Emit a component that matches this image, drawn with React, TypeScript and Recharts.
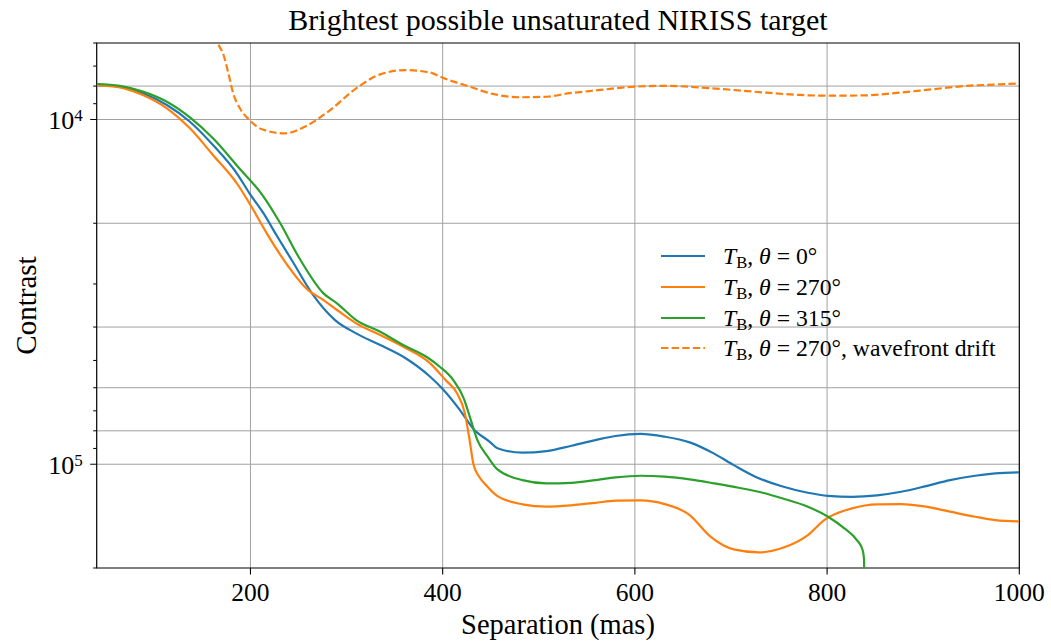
import React from "react";
import { LineChart, Line, XAxis, YAxis, CartesianGrid, Legend, ReferenceArea } from "recharts";

// separation (mas) / contrast values, one pair of arrays per curve
const sepTheta0 = [40, 64, 88, 113, 137, 161, 187, 199, 213, 227, 244, 264, 288, 310, 335, 359, 387, 400, 418, 432, 449, 457, 483, 508, 534, 559, 580, 606, 631, 657, 682, 703, 727, 752, 780, 801, 826, 852, 877, 903, 928, 954, 975, 1000];
const contrastTheta0 = [7950, 8030, 8390, 9080, 10150, 11860, 14490, 16380, 18600, 21640, 25870, 31940, 38180, 41720, 45100, 48790, 55760, 60500, 69660, 79000, 86100, 89900, 92600, 91600, 88400, 85100, 82800, 81700, 83200, 86400, 93000, 100600, 109200, 115700, 121000, 123500, 124300, 123100, 120200, 115700, 111200, 108000, 106300, 105600];

const sepTheta270 = [40, 64, 88, 113, 137, 161, 187, 200, 217, 236, 260, 276, 290, 310, 335, 359, 387, 403, 415, 423, 428, 432, 438, 445, 457, 483, 508, 534, 559, 580, 606, 631, 657, 678, 703, 729, 754, 780, 797, 826, 852, 877, 903, 928, 954, 975, 1000];
const contrastTheta270 = [7950, 8070, 8490, 9280, 10610, 12680, 15490, 17700, 21390, 25870, 31250, 33400, 35700, 39030, 42200, 45620, 50970, 57000, 62300, 71000, 85000, 100000, 108700, 114900, 123700, 130700, 132800, 131600, 129400, 127600, 127300, 130500, 140400, 161600, 176600, 180200, 174700, 160500, 145200, 134300, 130700, 130500, 132800, 137300, 142000, 145200, 146500];

const sepTheta315 = [40, 64, 88, 113, 137, 161, 187, 213, 231, 250, 276, 290, 310, 335, 359, 383, 397, 411, 422, 429, 436, 447, 457, 483, 508, 534, 559, 580, 606, 631, 657, 682, 708, 733, 754, 780, 801, 818, 831, 837, 838.5, 839];
const contrastTheta315 = [7890, 7990, 8300, 8880, 9860, 11340, 13710, 16650, 20000, 25010, 31940, 34140, 38180, 41280, 45100, 48790, 52150, 57000, 64500, 74000, 85000, 95200, 103500, 111200, 113600, 113200, 111200, 109200, 108000, 108700, 110700, 113600, 117000, 121000, 125700, 132800, 142000, 153500, 166000, 177400, 189600, 400000];

const sepDrift = [160, 166, 172, 177, 182, 189, 199, 212, 236, 258, 283, 310, 335, 361, 387, 400, 428, 452, 480, 508, 532, 553, 564, 600, 633, 667, 702, 737, 771, 806, 841, 875, 910, 945, 979, 1000];
const contrastDrift = [5300, 6000, 6500, 7340, 8390, 9280, 10040, 10680, 10970, 10440, 9390, 8120, 7400, 7190, 7310, 7570, 8030, 8430, 8620, 8590, 8390, 8270, 8210, 8030, 7990, 8070, 8210, 8360, 8490, 8530, 8510, 8360, 8170, 7990, 7910, 7860];

const xTicks = [200, 400, 600, 800, 1000];
const yTicks = [6000, 7000, 8000, 9000, 10000, 20000, 30000, 40000, 50000, 60000, 70000, 80000, 90000, 100000, 200000];
const yGrid = [8000, 10000, 20000, 40000, 60000, 80000, 100000];
const xGrid = [200, 400, 600, 800];

const legendRows = [
  { angle: "0°", extra: "", color: "#1f77b4", dash: undefined },
  { angle: "270°", extra: "", color: "#ff7f0e", dash: undefined },
  { angle: "315°", extra: "", color: "#2ca02c", dash: undefined },
  { angle: "270°", extra: ", wavefront drift", color: "#ff7f0e", dash: "7.4 3.2" },
];

const zip = (xs: number[], ys: number[]) => xs.map((sep, i) => ({ sep, contrast: ys[i] }));

const FONT = "'Liberation Serif', 'DejaVu Serif', serif";

function XTick(props: any) {
  const { x, y, payload } = props;
  return (
    <g>
      <line x1={x} x2={x} y1={y} y2={y + 6.5} stroke="#000" strokeWidth={1.1} />
      <text x={x} y={y + 33} textAnchor="middle" fontSize={25.5} fontFamily={FONT} fill="#000">
        {payload.value}
      </text>
    </g>
  );
}

function YTick(props: any) {
  const { x, y, payload } = props;
  const v = payload.value;
  const major = v === 10000 || v === 100000;
  return (
    <g>
      <line x1={x - (major ? 6.5 : 3.5)} x2={x} y1={y} y2={y} stroke="#000" strokeWidth={1} />
      {major && (
        <text x={x - 14} y={y + 10} textAnchor="end" fontSize={26} fontFamily={FONT} fill="#000">
          10
          <tspan dy={-8} fontSize={17}>
            {Math.round(Math.log10(v))}
          </tspan>
        </text>
      )}
    </g>
  );
}

function LegendBox() {
  return (
    <div style={{ fontFamily: FONT, fontSize: 23.7, color: "#000" }}>
      {legendRows.map((r, i) => (
        <div key={i} style={{ display: "flex", alignItems: "center", height: 30.8 }}>
          <svg width={44} height={6} style={{ flex: "none" }}>
            <line x1={0} x2={44} y1={3} y2={3} stroke={r.color} strokeWidth={2.2} strokeDasharray={r.dash} />
          </svg>
          <span style={{ marginLeft: 18, whiteSpace: "nowrap", lineHeight: "30px" }}>
            <i>T</i>
            <sub style={{ fontSize: "0.7em", verticalAlign: "-0.25em", lineHeight: 0 }}>B</sub>, <i>θ</i> = {r.angle}
            {r.extra}
          </span>
        </div>
      ))}
    </div>
  );
}

export default function App() {
  return (
    <div style={{ position: "absolute", left: 0, top: 0, width: 1051, height: 644, background: "#fff" }}>
      <LineChart width={1051} height={644} margin={{ top: 43, right: 31.7, bottom: 0, left: 0 }}>
        <CartesianGrid
          horizontalValues={yGrid}
          verticalValues={xGrid}
          stroke="#a0a0a0"
          strokeWidth={1}
        />
        <XAxis
          dataKey="sep"
          type="number"
          domain={[40, 1000]}
          ticks={xTicks}
          allowDataOverflow
          axisLine={false}
          tickLine={false}
          tickSize={0}
          tickMargin={0}
          height={76}
          interval={0}
          tick={<XTick />}
        />
        <YAxis
          dataKey="contrast"
          scale="log"
          domain={[6000, 200000]}
          reversed
          allowDataOverflow
          ticks={yTicks}
          axisLine={false}
          tickLine={false}
          tickSize={0}
          tickMargin={0}
          width={96.7}
          interval={0}
          tick={<YTick />}
        />
        <ReferenceArea x1={40} x2={1000} y1={6000} y2={200000} fill="none" stroke="#000" strokeWidth={1.2} />
        <Legend
          layout="horizontal"
          verticalAlign="middle"
          align="center"
          wrapperStyle={{ left: 661, top: 240.6, width: 370 }}
          content={() => <LegendBox />}
        />
        <Line data={zip(sepTheta0, contrastTheta0)} dataKey="contrast" type="monotone" stroke="#1f77b4" strokeWidth={2.2} dot={false} isAnimationActive={false} />
        <Line data={zip(sepTheta270, contrastTheta270)} dataKey="contrast" type="monotone" stroke="#ff7f0e" strokeWidth={2.2} dot={false} isAnimationActive={false} />
        <Line data={zip(sepTheta315, contrastTheta315)} dataKey="contrast" type="monotone" stroke="#2ca02c" strokeWidth={2.2} dot={false} isAnimationActive={false} />
        <Line data={zip(sepDrift, contrastDrift)} dataKey="contrast" type="monotone" stroke="#ff7f0e" strokeWidth={2.2} strokeDasharray="7.4 3.2" dot={false} isAnimationActive={false} />
      </LineChart>
      <svg width={1051} height={644} style={{ position: "absolute", left: 0, top: 0, pointerEvents: "none" }}>
        <text x={558} y={30} textAnchor="middle" fontSize={30} fontFamily={FONT} fill="#000">
          Brightest possible unsaturated NIRISS target
        </text>
        <text x={558} y={634} textAnchor="middle" fontSize={28.5} fontFamily={FONT} fill="#000">
          Separation (mas)
        </text>
        <text x={36} y={305.5} textAnchor="middle" fontSize={29} fontFamily={FONT} fill="#000" transform="rotate(-90 36 305.5)">
          Contrast
        </text>
      </svg>
    </div>
  );
}
